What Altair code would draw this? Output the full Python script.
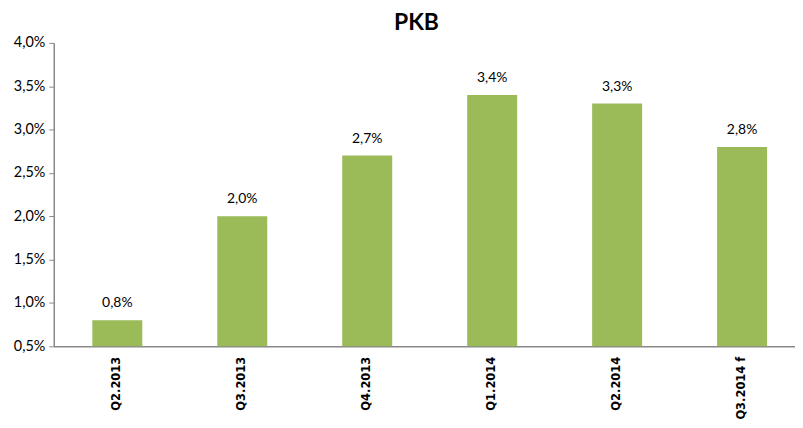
import altair as alt
import pandas as pd

categories = ["Q2.2013", "Q3.2013", "Q4.2013", "Q1.2014", "Q2.2014", "Q3.2014 f"]
values = [0.008, 0.020, 0.027, 0.034, 0.033, 0.028]
y_ticks = [0.005, 0.010, 0.015, 0.020, 0.025, 0.030, 0.035, 0.040]

df = pd.DataFrame({"cat": categories, "val": values})

base = alt.Chart(df).transform_calculate(
    label="replace(format(datum.val, '.1%'), '.', ',')"
)

xenc = alt.X(
    "cat:N",
    sort=categories,
    title=None,
    scale=alt.Scale(paddingInner=0.6, paddingOuter=0.266, align=0.58),
    axis=alt.Axis(
        labelAngle=270,
        labelAlign="right",
        labelBaseline="middle",
        labelFont="DejaVu Sans",
        labelFontWeight="bold",
        labelFontSize=11.5,
        labelColor="#000000",
        labelPadding=10,
        ticks=False,
        domainColor="#888888",
        domainWidth=1.5,
    ),
)

yscale = alt.Scale(domain=[0.005, 0.04], zero=False, nice=False)

bars = base.mark_bar(color="#9BBB59").encode(
    x=xenc,
    y=alt.Y(
        "val:Q",
        scale=yscale,
        title=None,
        axis=alt.Axis(
            values=y_ticks,
            labelExpr="replace(format(datum.value, '.1%'), '.', ',')",
            labelFont="Lato",
            labelFontSize=14.5,
            labelColor="#000000",
            labelPadding=4,
            tickSize=5,
            tickColor="#888888",
            domainColor="#888888",
            domainWidth=1.5,
            grid=False,
            minExtent=46,
            maxExtent=46,
        ),
    ),
    y2=alt.datum(0.005),
)

labels = base.mark_text(
    baseline="bottom", dy=-10, font="Lato", fontSize=14, color="#000000"
).encode(
    x=alt.X("cat:N", sort=categories),
    y=alt.Y("val:Q", scale=yscale),
    text="label:N",
)

chart = (
    alt.layer(bars, labels)
    .properties(
        width=745,
        height=305,
        padding={"top": 3, "left": 0, "right": 0, "bottom": 0},
        title=alt.TitleParams(
            "PKB", font="Lato", fontSize=23, fontWeight="bold", color="#000000",
            offset=0, dx=-8
        ),
    )
    .configure_view(stroke=None)
)

chart.save("out.html", embed_options={"renderer": "svg", "actions": False})
